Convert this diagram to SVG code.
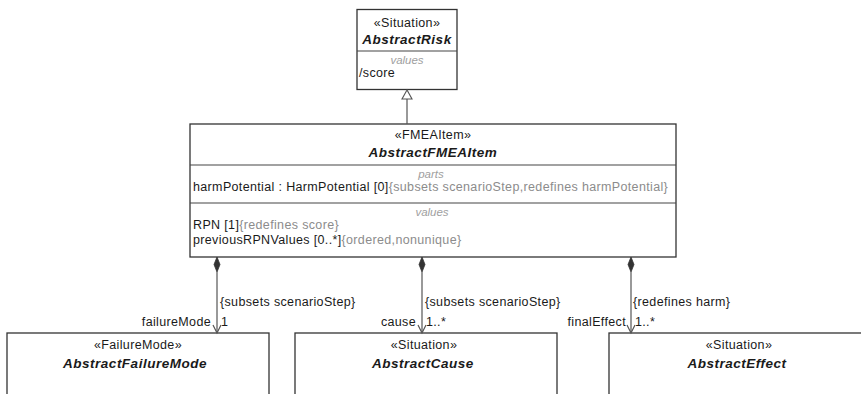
<svg xmlns="http://www.w3.org/2000/svg" width="861" height="394" viewBox="0 0 861 394">
<style>
.box{fill:#fff;stroke:#333;stroke-width:1.3}
.div{stroke:#444;stroke-width:1.2}
text{font-family:"Liberation Sans",Arial,sans-serif;font-size:12.5px;letter-spacing:0.35px;fill:#1a1a1a}
.c{text-anchor:middle}
.r{text-anchor:end}
.name{font-weight:bold;font-style:italic;font-size:13.5px;letter-spacing:0.5px}
.cmp{font-style:italic;fill:#a0a0a0;font-size:11.5px;letter-spacing:0}
.con{fill:#8c8c8c}
.ln{stroke:#555;stroke-width:1.2;fill:none}
</style>
<g id="AbstractRisk">
<rect class="box" x="357" y="9.5" width="100" height="80"/>
<line class="div" x1="357" y1="51" x2="457" y2="51"/>
<text class="c" x="407" y="27">«Situation»</text>
<text class="c name" x="407" y="44">AbstractRisk</text>
<text class="c cmp" x="407" y="64">values</text>
<text x="359" y="77">/score</text>
</g>
<g id="AbstractFMEAItem">
<rect class="box" x="190" y="124" width="486" height="133"/>
<line class="div" x1="190" y1="165" x2="676" y2="165"/>
<line class="div" x1="190" y1="203" x2="676" y2="203"/>
<text class="c" x="433" y="139">«FMEAItem»</text>
<text class="c name" x="433" y="157">AbstractFMEAItem</text>
<text class="c cmp" x="431" y="178">parts</text>
<text x="193" y="191">harmPotential : HarmPotential [0]<tspan class="con">{subsets scenarioStep,redefines harmPotential}</tspan></text>
<text class="c cmp" x="432" y="216">values</text>
<text x="193" y="229">RPN [1]<tspan class="con">{redefines score}</tspan></text>
<text x="193" y="243.5">previousRPNValues [0..*]<tspan class="con">{ordered,nonunique}</tspan></text>
</g>
<g id="AbstractFailureMode">
<rect class="box" x="7" y="333" width="262" height="70"/>
<text class="c" x="138" y="349">«FailureMode»</text>
<text class="c name" x="135" y="368">AbstractFailureMode</text>
</g>
<g id="AbstractCause">
<rect class="box" x="295" y="333" width="262" height="70"/>
<text class="c" x="424" y="349">«Situation»</text>
<text class="c name" x="423" y="368">AbstractCause</text>
</g>
<g id="AbstractEffect">
<rect class="box" x="609" y="333" width="262" height="70"/>
<text class="c" x="739" y="349">«Situation»</text>
<text class="c name" x="737" y="368">AbstractEffect</text>
</g>
<g id="connectors">
<line class="ln" x1="407" y1="99" x2="407" y2="124"/>
<polygon points="407,90 402,99 412,99" fill="#fff" stroke="#555" stroke-width="1.1"/>

<line class="ln" x1="217" y1="272" x2="217" y2="333"/>
<polygon points="217,257 220,264.5 217,272 214,264.5" fill="#333" stroke="#333" stroke-width="0.8"/>
<polyline class="ln" points="213,325 217,333 221,325"/>
<text x="220" y="306">{subsets scenarioStep}</text>
<text class="r" x="211" y="326">failureMode</text>
<text x="221" y="326">1</text>

<line class="ln" x1="422" y1="272" x2="422" y2="333"/>
<polygon points="422,257 425,264.5 422,272 419,264.5" fill="#333" stroke="#333" stroke-width="0.8"/>
<polyline class="ln" points="418,325 422,333 426,325"/>
<text x="425" y="306">{subsets scenarioStep}</text>
<text class="r" x="416" y="326">cause</text>
<text x="426" y="326">1..*</text>

<line class="ln" x1="631" y1="272" x2="631" y2="333"/>
<polygon points="631,257 634,264.5 631,272 628,264.5" fill="#333" stroke="#333" stroke-width="0.8"/>
<polyline class="ln" points="627,325 631,333 635,325"/>
<text x="633" y="306">{redefines harm}</text>
<text class="r" x="626" y="326">finalEffect</text>
<text x="635" y="326">1..*</text>
</g>
</svg>
